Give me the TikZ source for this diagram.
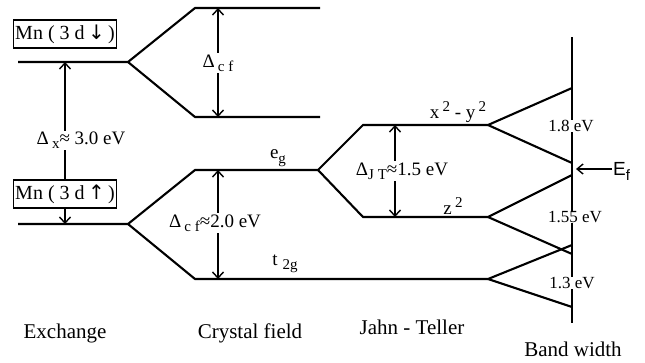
\documentclass[tikz,border=0pt]{standalone}
\usepackage{fontspec}
\setmainfont{Liberation Serif}
\newfontfamily\efsans{Liberation Sans}
\newfontfamily\arrowfont{DejaVu Sans}
\usetikzlibrary{arrows.meta}
\tikzset{
  level/.style={line width=2.1pt},
  gap/.style={line width=1.4pt, {Straight Barb[length=6pt,width=11pt,line width=1.4pt]}-{Straight Barb[length=6pt,width=11pt,line width=1.4pt]}},
  single/.style={line width=1.4pt, -{Straight Barb[length=6pt,width=10pt,line width=1.4pt]}},
  lab/.style={font=\fontsize{19}{21}\selectfont, inner sep=1pt},
  wlab/.style={lab, fill=white},
  blab/.style={font=\fontsize{17}{19}\selectfont, fill=white, inner sep=0.5pt},
  bot/.style={font=\fontsize{21}{23}\selectfont, inner sep=0pt},
  mnbox/.style={draw, line width=1.3pt, fill=white, font=\fontsize{20}{22}\selectfont, inner sep=1pt, minimum width=103pt, minimum height=28pt},
}
\newcommand{\sbx}[1]{\raisebox{-0.5ex}{\fontsize{15}{16}\selectfont #1}}
\newcommand{\spx}[1]{\raisebox{0.75ex}{\fontsize{15}{16}\selectfont #1}}
\newcommand{\arr}[1]{{\arrowfont\fontsize{20}{22}\selectfont #1}}
\begin{document}
\begin{tikzpicture}[x=1pt,y=-1pt]
\useasboundingbox (0,0) rectangle (645,362);
% exchange levels
\coordinate (u0) at (18,62);  \coordinate (u1) at (128,62);
\coordinate (d0) at (18,224); \coordinate (d1) at (128,224);
% crystal field (spin down)
\coordinate (ua) at (195,8);   \coordinate (ub) at (320,8);
\coordinate (uc) at (195,117); \coordinate (ud) at (320,117);
% crystal field (spin up)
\coordinate (ea) at (195,170); \coordinate (eb) at (318,170);
\coordinate (ta) at (195,279); \coordinate (tb) at (488,279);
% Jahn-Teller
\coordinate (xa) at (363,125); \coordinate (xb) at (488,125);
\coordinate (za) at (363,217); \coordinate (zb) at (488,217);
% band ends
\coordinate (x1) at (572,88);  \coordinate (x2) at (572,163);
\coordinate (z1) at (572,175); \coordinate (z2) at (572,254);
\coordinate (t1) at (572,245); \coordinate (t2) at (572,307);
\coordinate (vt) at (572,37);  \coordinate (vb) at (572,323);
\coordinate (ef) at (576,169); \coordinate (eft) at (612,169);

\draw[level] (u0) -- (u1) -- (ua) -- (ub);
\draw[level] (u1) -- (uc) -- (ud);
\draw[level] (d0) -- (d1) -- (ea) -- (eb) -- (xa) -- (xb) -- (x1);
\draw[level] (xb) -- (x2);
\draw[level] (eb) -- (za) -- (zb) -- (z1);
\draw[level] (zb) -- (z2);
\draw[level] (d1) -- (ta) -- (tb) -- (t1);
\draw[level] (tb) -- (t2);
\draw[line width=1.6pt] (vt) -- (vb);

% gap arrows
\coordinate (gx1) at (65,62);  \coordinate (gx2) at (65,224);
\coordinate (gc1) at (218,8);  \coordinate (gc2) at (218,117);
\coordinate (gd1) at (218,170); \coordinate (gd2) at (218,279);
\coordinate (gj1) at (395,125); \coordinate (gj2) at (395,217);
\draw[gap] (gx1) -- (gx2);
\draw[gap] (gc1) -- (gc2);
\draw[gap] (gd1) -- (gd2);
\draw[gap] (gj1) -- (gj2);
\draw[single] (eft) -- (ef);

% labels
\node[mnbox] (mndn) at (65,34) {Mn ( 3 d\,\arr{↓}\,)};
\node[mnbox] (mnup) at (65,194) {Mn ( 3 d\,\arr{↑}\,)};
\node[wlab] (lx) at (81,140) {Δ\,\sbx{x}≈ 3.0 eV};
\node[wlab] (lc1) at (218,63) {Δ\,\sbx{c f}};
\node[wlab] (lc2) at (215,223) {Δ\,\sbx{c f}≈2.0 eV};
\node[wlab] (lj) at (402,171) {Δ\sbx{J T}≈1.5 eV};
\node[lab] (eg) at (278,158) {e\sbx{g}};
\node[lab] (t2g) at (285,264) {t \sbx{2g}};
\node[lab] (xy) at (458,112) {x\,\spx{2} - y\,\spx{2}};
\node[lab] (z2l) at (453,206) {z\,\spx{2}};
\node[blab] (b1) at (571,126) {1.8 eV};
\node[blab] (b2) at (575,217) {1.55 eV};
\node[blab] (b3) at (572,283) {1.3 eV};
\node[lab, anchor=west, inner sep=0pt] (efl) at (613,171) {\efsans E\sbx{f}};
\node[bot] (bex) at (65,333) {Exchange};
\node[bot] (bcf) at (250,333) {Crystal field};
\node[bot] (bjt) at (412,327) {Jahn - Teller};
\node[bot] (bbw) at (573,349) {Band width};
\end{tikzpicture}
\end{document}
